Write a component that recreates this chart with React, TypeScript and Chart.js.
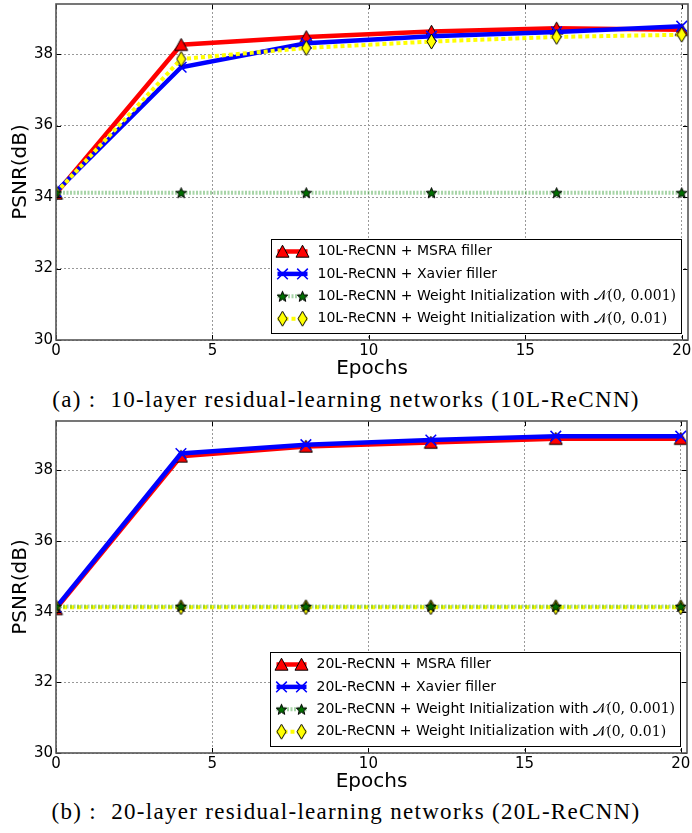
import React, { useEffect, useRef } from "react";
import { Chart, registerables } from "chart.js";

Chart.register(...registerables);

// ---------- data ----------
const epochs = [0, 4, 8, 12, 16, 20];
const xTicks = [0, 5, 10, 15, 20];
const yTicks = [30, 32, 34, 36, 38];

const msra10 = [34.1, 38.26, 38.48, 38.63, 38.72, 38.68];
const xavier10 = [34.15, 37.63, 38.3, 38.5, 38.62, 38.78];
const gaussSmall10 = [34.12, 34.12, 34.12, 34.12, 34.12, 34.12];
const gaussLarge10 = [34.12, 37.86, 38.17, 38.35, 38.48, 38.54];

const msra20 = [34.08, 38.4, 38.68, 38.79, 38.9, 38.9];
const xavier20 = [34.12, 38.48, 38.73, 38.86, 38.97, 38.97];
const gaussSmall20 = [34.15, 34.15, 34.15, 34.15, 34.15, 34.15];
const gaussLarge20 = [34.13, 34.13, 34.13, 34.13, 34.13, 34.13];

const legend10: [string, string][] = [
  ["10L-ReCNN + MSRA filler", ""],
  ["10L-ReCNN + Xavier filler", ""],
  ["10L-ReCNN + Weight Initialization with ", "\u{1D4A9}(0, 0.001)"],
  ["10L-ReCNN + Weight Initialization with ", "\u{1D4A9}(0, 0.01)"],
];
const legend20: [string, string][] = [
  ["20L-ReCNN + MSRA filler", ""],
  ["20L-ReCNN + Xavier filler", ""],
  ["20L-ReCNN + Weight Initialization with ", "\u{1D4A9}(0, 0.001)"],
  ["20L-ReCNN + Weight Initialization with ", "\u{1D4A9}(0, 0.01)"],
];

const caption10 = "(a) :  10-layer residual-learning networks (10L-ReCNN)";
const caption20 = "(b) :  20-layer residual-learning networks (20L-ReCNN)";

// ---------- marker glyphs ----------
function makeTriangle(): HTMLCanvasElement {
  const c = document.createElement("canvas");
  c.width = 15; c.height = 15;
  const g = c.getContext("2d")!;
  g.beginPath();
  g.moveTo(7.5, 1.2);
  g.lineTo(1, 13.2);
  g.lineTo(14, 13.2);
  g.closePath();
  g.fillStyle = "#ff0000";
  g.fill();
  g.lineWidth = 1;
  g.strokeStyle = "#000";
  g.stroke();
  return c;
}
function makeStar(): HTMLCanvasElement {
  const c = document.createElement("canvas");
  c.width = 13; c.height = 13;
  const g = c.getContext("2d")!;
  const cx = 6.5, cy = 7, ro = 5.6, ri = 2.4;
  g.beginPath();
  for (let i = 0; i < 10; i++) {
    const r = i % 2 === 0 ? ro : ri;
    const a = -Math.PI / 2 + (i * Math.PI) / 5;
    const px = cx + r * Math.cos(a), py = cy + r * Math.sin(a);
    if (i === 0) g.moveTo(px, py); else g.lineTo(px, py);
  }
  g.closePath();
  g.fillStyle = "#007000";
  g.fill();
  g.lineWidth = 1;
  g.strokeStyle = "#000";
  g.stroke();
  return c;
}
function makeDiamond(): HTMLCanvasElement {
  const c = document.createElement("canvas");
  c.width = 11; c.height = 17;
  const g = c.getContext("2d")!;
  g.beginPath();
  g.moveTo(5.5, 1);
  g.lineTo(10, 8.5);
  g.lineTo(5.5, 16);
  g.lineTo(1, 8.5);
  g.closePath();
  g.fillStyle = "#ffff00";
  g.fill();
  g.lineWidth = 1;
  g.strokeStyle = "#000";
  g.stroke();
  return c;
}

// ---------- plugins ----------
const frameAndLegend = {
  id: "frameLegend",
  afterDraw(chart: any, _args: any, opts: any) {
    const { ctx, chartArea: a, scales } = chart;
    ctx.save();
    // inward ticks
    ctx.strokeStyle = "#000";
    ctx.lineWidth = 1;
    ctx.setLineDash([]);
    ctx.beginPath();
    for (const v of xTicks) {
      const px = Math.round(scales.x.getPixelForValue(v)) + 0.5;
      ctx.moveTo(px, a.bottom); ctx.lineTo(px, a.bottom - 5);
      ctx.moveTo(px, a.top); ctx.lineTo(px, a.top + 5);
    }
    for (const v of yTicks) {
      const py = Math.round(scales.y.getPixelForValue(v)) + 0.5;
      ctx.moveTo(a.left, py); ctx.lineTo(a.left + 5, py);
      ctx.moveTo(a.right, py); ctx.lineTo(a.right - 5, py);
    }
    ctx.stroke();
    // frame
    ctx.strokeStyle = "#555";
    ctx.lineWidth = 1.6;
    ctx.strokeRect(a.left, a.top, a.right - a.left, a.bottom - a.top);

    // legend
    const labels: [string, string][] = opts.labels;
    const mainFont = '14px "DejaVu Sans"';
    const mathFont = '14px "DejaVu Serif", "Liberation Serif", serif';
    let maxW = 0;
    for (const [m, mm] of labels) {
      ctx.font = mainFont;
      let w = ctx.measureText(m).width;
      if (mm) { ctx.font = mathFont; w += ctx.measureText(mm).width; }
      maxW = Math.max(maxW, w);
    }
    const rowH = 22.4;
    const boxW = 46 + maxW + 6;
    const boxH = 12 + rowH * 3 + 15;
    const right = a.right - 7;
    const bottom = a.bottom - 7;
    const left = Math.round(right - boxW) + 0.5;
    const top = Math.round(bottom - boxH) + 0.5;
    ctx.fillStyle = "#fff";
    ctx.fillRect(left, top, right - left, bottom - top);
    ctx.strokeStyle = "#000";
    ctx.lineWidth = 1;
    ctx.strokeRect(left, top, Math.round(right - left), Math.round(bottom - top));

    const ds = chart.data.datasets;
    for (let i = 0; i < labels.length; i++) {
      const d = ds[i];
      const y = top + 12 + i * rowH;
      ctx.save();
      ctx.strokeStyle = d.borderColor;
      ctx.lineWidth = d.borderWidth;
      ctx.setLineDash(d.borderDash || []);
      ctx.beginPath();
      ctx.moveTo(left + 6, y);
      ctx.lineTo(left + 36, y);
      ctx.stroke();
      ctx.restore();
      for (const mx of [left + 11, left + 31]) {
        const st = d.pointStyle;
        if (typeof st === "string") {
          ctx.save();
          ctx.strokeStyle = d.pointBorderColor;
          ctx.lineWidth = d.pointBorderWidth;
          ctx.setLineDash([]);
          const r = d.pointRadius * Math.SQRT1_2;
          ctx.beginPath();
          ctx.moveTo(mx - r, y - r); ctx.lineTo(mx + r, y + r);
          ctx.moveTo(mx - r, y + r); ctx.lineTo(mx + r, y - r);
          ctx.stroke();
          ctx.restore();
        } else {
          ctx.drawImage(st, mx - st.width / 2, y - st.height / 2);
        }
      }
      const [m, mm] = labels[i];
      ctx.fillStyle = "#000";
      ctx.textBaseline = "middle";
      ctx.textAlign = "left";
      ctx.font = mainFont;
      ctx.fillText(m, left + 46, y);
      if (mm) {
        const w = ctx.measureText(m).width;
        ctx.font = mathFont;
        ctx.fillText(mm, left + 46 + w, y + 0.5);
      }
    }
    ctx.restore();
  },
};

function series(vals: number[]) {
  return epochs.map((e, i) => ({ x: e, y: vals[i] }));
}

function buildConfig(
  data: number[][],
  labels: [string, string][],
  axisH: number,
  padRight: number
): any {
  const tri = makeTriangle();
  const star = makeStar();
  const dia = makeDiamond();
  const datasets = [
    {
      data: series(data[0]),
      borderColor: "#ff0000",
      borderWidth: 4.5,
      pointStyle: tri,
      pointRadius: 6,
      order: 4,
    },
    {
      data: series(data[1]),
      borderColor: "#0000ff",
      borderWidth: 4.5,
      pointStyle: "crossRot",
      pointRadius: 7.5,
      pointBorderColor: "#0000ff",
      pointBorderWidth: 1.5,
      order: 3,
    },
    {
      data: series(data[2]),
      borderColor: "rgba(60,160,60,0.45)",
      borderWidth: 4,
      borderDash: [2, 1.5],
      pointStyle: star,
      pointRadius: 6,
      order: 1,
    },
    {
      data: series(data[3]),
      borderColor: "#ffff00",
      borderWidth: 4,
      borderDash: [4, 3],
      pointStyle: dia,
      pointRadius: 6,
      order: 2,
    },
  ].map((d) => ({ ...d, fill: false, tension: 0, backgroundColor: d.borderColor }));

  return {
    type: "line",
    data: { datasets },
    options: {
      animation: false,
      responsive: false,
      events: [],
      layout: { autoPadding: false, padding: { top: 4, right: padRight, left: 0, bottom: 0 } },
      plugins: {
        legend: { display: false },
        tooltip: { enabled: false },
        frameLegend: { labels },
      },
      scales: {
        x: {
          type: "linear",
          min: 0,
          max: 20.2,
          afterBuildTicks: (s: any) => {
            s.ticks = xTicks.map((v) => ({ value: v }));
          },
          afterFit: (s: any) => {
            s.height = axisH;
            s.paddingLeft = 0;
            s.paddingRight = 0;
            s.paddingTop = 0;
            s.paddingBottom = 0;
          },
          ticks: {
            color: "#000",
            font: { size: 15, family: '"DejaVu Sans"' },
            padding: 2,
            maxRotation: 0,
          },
          grid: { color: "#999", lineWidth: 1, drawTicks: false },
          border: { display: false, dash: [2, 2] },
          title: {
            display: true,
            text: "Epochs",
            color: "#000",
            font: { size: 20, family: '"DejaVu Sans"' },
            padding: { top: 0, bottom: 4 },
          },
        },
        y: {
          type: "linear",
          min: 30,
          max: 39.4,
          afterBuildTicks: (s: any) => {
            s.ticks = yTicks.map((v) => ({ value: v }));
          },
          afterFit: (s: any) => {
            s.width = 56;
            s.paddingLeft = 0;
            s.paddingRight = 0;
            s.paddingTop = 0;
            s.paddingBottom = 0;
          },
          ticks: {
            color: "#000",
            font: { size: 15, family: '"DejaVu Sans"' },
            padding: 3,
          },
          grid: { color: "#999", lineWidth: 1, drawTicks: false },
          border: { display: false, dash: [2, 2] },
          title: {
            display: true,
            text: "PSNR(dB)",
            color: "#000",
            font: { size: 20, family: '"DejaVu Sans"' },
            padding: { top: 9, bottom: 0 },
          },
        },
      },
    },
    plugins: [frameAndLegend],
  };
}

function PlotCanvas(props: {
  data: number[][];
  labels: [string, string][];
  height: number;
  top: number;
  axisH: number;
  padRight: number;
}) {
  const ref = useRef<HTMLCanvasElement | null>(null);
  useEffect(() => {
    if (!ref.current) return;
    const chart = new Chart(
      ref.current,
      buildConfig(props.data, props.labels, props.axisH, props.padRight)
    );
    return () => chart.destroy();
  }, []);
  return (
    <canvas
      ref={ref}
      width={692}
      height={props.height}
      style={{ position: "absolute", left: 0, top: props.top, width: 692, height: props.height }}
    />
  );
}

const captionStyle = (top: number): React.CSSProperties => ({
  position: "absolute",
  left: 0,
  top,
  width: 692,
  height: 28,
  lineHeight: "28px",
  textAlign: "center",
  fontFamily: '"Liberation Serif", "DejaVu Serif", serif',
  fontSize: 23,
  letterSpacing: "1.3px",
  color: "#000",
  whiteSpace: "pre",
});

export default function App() {
  return (
    <div
      style={{
        position: "absolute",
        left: 0,
        top: 0,
        width: 692,
        height: 833,
        background: "#fff",
        overflow: "hidden",
      }}
    >
      <PlotCanvas
        data={[msra10, xavier10, gaussSmall10, gaussLarge10]}
        labels={legend10}
        top={0}
        height={385}
        axisH={45}
        padRight={4}
      />
      <div style={captionStyle(386)}>{caption10}</div>
      <PlotCanvas
        data={[msra20, xavier20, gaussSmall20, gaussLarge20]}
        labels={legend20}
        top={417}
        height={381}
        axisH={45}
        padRight={5}
      />
      <div style={captionStyle(798)}>{caption20}</div>
    </div>
  );
}
